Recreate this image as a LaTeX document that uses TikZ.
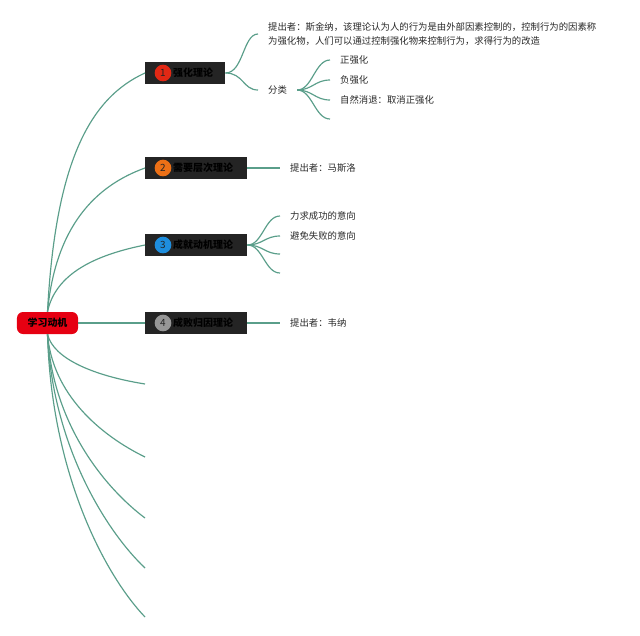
\documentclass[tikz,border=0pt]{standalone}
\usepackage{fontspec}
\newfontfamily\cjk{Noto Sans CJK SC}
\usepackage{tikz}
\usepackage{xcolor}
\definecolor{branch}{RGB}{90,158,138}
\definecolor{rootred}{RGB}{230,0,18}
\definecolor{topicbg}{RGB}{36,36,36}
\definecolor{leafgray}{RGB}{40,40,40}
\definecolor{nred}{RGB}{226,40,20}
\definecolor{norange}{RGB}{236,112,22}
\definecolor{nblue}{RGB}{30,142,222}
\definecolor{ngray}{RGB}{150,150,150}

\begin{document}
\begin{tikzpicture}[x=0.03cm,y=-0.03cm,font=\cjk\fontsize{8}{12}\selectfont,
  link/.style={draw=branch,line width=1pt},
  rootbox/.style={fill=rootred,rounded corners=0.18cm,minimum width=1.83cm,minimum height=0.66cm,inner sep=0,text=black,font=\cjk\bfseries\fontsize{8.5}{10}\selectfont},
  topic/.style={fill=topicbg,anchor=west,minimum height=0.66cm,inner sep=0,align=left,text=black,font=\cjk\bfseries\fontsize{8.5}{10}\selectfont},
  num/.style={circle,minimum size=0.5cm,inner sep=0,text=topicbg,font=\cjk\fontsize{8.5}{9}\selectfont},
  leaf/.style={anchor=west,inner xsep=0.3cm,inner ysep=1pt,align=left,text=leafgray}]
  \useasboundingbox (0,0) rectangle (640,635);

  \node[rootbox] (root) at (47.5,323) {学习动机};

  \node[topic,text width=2.4cm] (t1) at (145,73) {\hspace*{0.84cm}强化理论};
  \node[topic,text width=3.06cm] (t2) at (145,168) {\hspace*{0.84cm}需要层次理论};
  \node[topic,text width=3.06cm] (t3) at (145,245) {\hspace*{0.84cm}成就动机理论};
  \node[topic,text width=3.06cm] (t4) at (145,323) {\hspace*{0.84cm}成败归因理论};
  \node[num,fill=nred] (c1) at (163,73) {1}; \node[num,fill=norange] (c2) at (163,168) {2};
  \node[num,fill=nblue] (c3) at (163,245) {3}; \node[num,fill=ngray] (c4) at (163,323) {4};

  \draw[link] (root.north) .. controls +(8,-150) and +(-55,25) .. (t1.west);
  \draw[link] (root.north) .. controls +(8,-85) and +(-50,18) .. (t2.west);
  \draw[link] (root.north) .. controls +(8,-38) and +(-50,10) .. (t3.west);
  \draw[link] (root.east) -- (t4.west);
  \coordinate (e1) at (145,384); \coordinate (e2) at (145,457); \coordinate (e3) at (145,518);
  \coordinate (e4) at (145,568); \coordinate (e5) at (145,617);
  \draw[link] (root.south) .. controls +(6,25) and +(-50,-8) .. (e1);
  \draw[link] (root.south) .. controls +(5,60) and +(-45,-22) .. (e2);
  \draw[link] (root.south) .. controls +(5,90) and +(-40,-30) .. (e3);
  \draw[link] (root.south) .. controls +(5,110) and +(-40,-38) .. (e4);
  \draw[link] (root.south) .. controls +(4,140) and +(-40,-42) .. (e5);

  \node[leaf] (a1) at (258,34) {提出者：斯金纳，该理论认为人的行为是由外部因素控制的，控制行为的因素称\\为强化物，人们可以通过控制强化物来控制行为，求得行为的改造};
  \node[leaf] (a2) at (258,90) {分类};
  \draw[link] (t1.east) .. controls +(18,0) and +(-15,0) .. (a1.west);
  \draw[link] (t1.east) .. controls +(18,0) and +(-15,0) .. (a2.west);
  \node[leaf] (b1) at (330,60) {正强化}; \node[leaf] (b2) at (330,80) {负强化};
  \node[leaf] (b3) at (330,100) {自然消退：取消正强化}; \coordinate (b4) at (330,119);
  \draw[link] (a2.east) .. controls +(15,0) and +(-15,0) .. (b1.west);
  \draw[link] (a2.east) .. controls +(15,0) and +(-15,0) .. (b2.west);
  \draw[link] (a2.east) .. controls +(15,0) and +(-15,0) .. (b3.west);
  \draw[link] (a2.east) .. controls +(15,0) and +(-15,0) .. (b4);

  \node[leaf] (m1) at (280,168) {提出者：马斯洛};
  \draw[link] (t2.east) -- (m1.west);

  \node[leaf] (s1) at (280,216) {力求成功的意向}; \node[leaf] (s2) at (280,236) {避免失败的意向};
  \coordinate (s3) at (280,254); \coordinate (s4) at (280,273);
  \draw[link] (t3.east) .. controls +(15,0) and +(-15,0) .. (s1.west);
  \draw[link] (t3.east) .. controls +(15,0) and +(-15,0) .. (s2.west);
  \draw[link] (t3.east) .. controls +(15,0) and +(-15,0) .. (s3);
  \draw[link] (t3.east) .. controls +(15,0) and +(-15,0) .. (s4);

  \node[leaf] (w1) at (280,323) {提出者：韦纳};
  \draw[link] (t4.east) -- (w1.west);
\end{tikzpicture}
\end{document}
